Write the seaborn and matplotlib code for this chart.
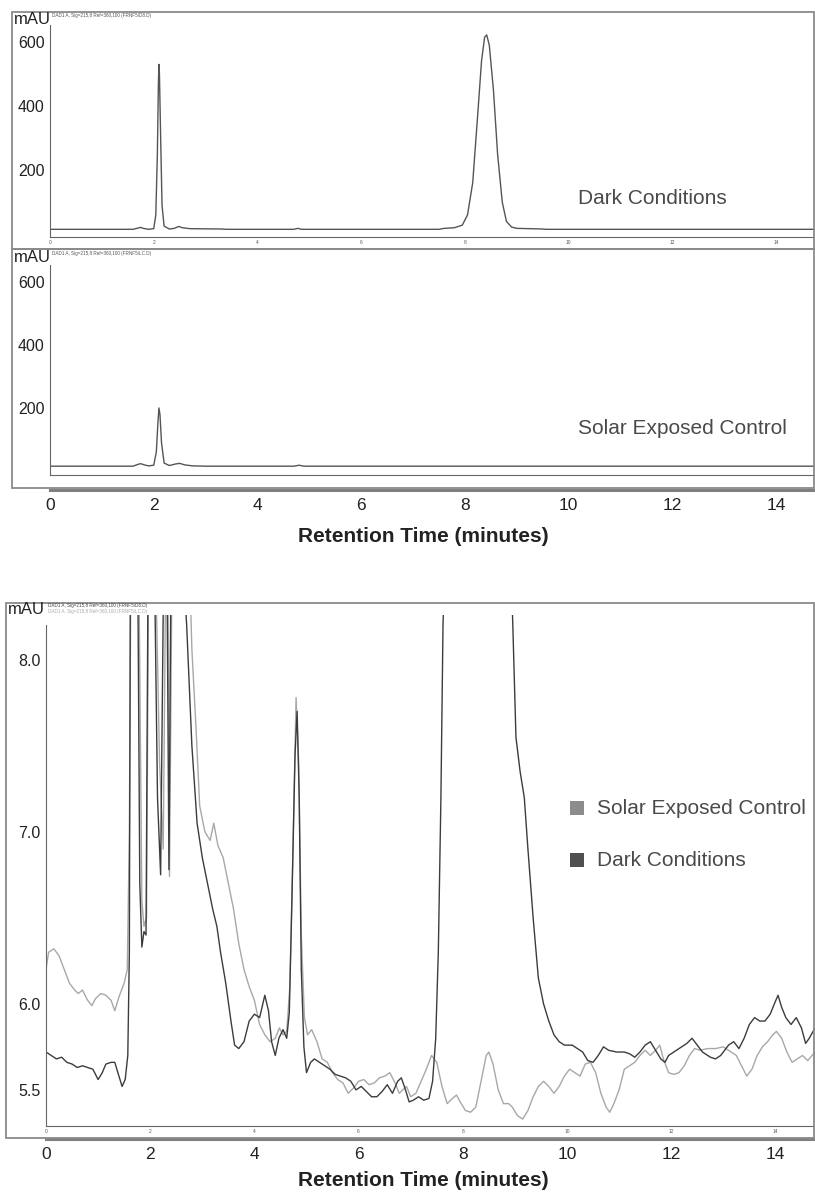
import numpy as np
import pandas as pd
import matplotlib
matplotlib.use("Agg")
import matplotlib.pyplot as plt
import seaborn as sns
from matplotlib.patches import Rectangle
from matplotlib.ticker import MultipleLocator, FixedLocator, FixedFormatter

# === Top chromatograms (mAU vs retention time, minutes) ===
dark_top_t = [0, 1.6, 1.7, 1.75, 1.8, 1.9, 2.0, 2.04, 2.07, 2.09, 2.1, 2.11, 2.13, 2.16, 2.2, 2.3,
              2.4, 2.48, 2.55, 2.7, 3.3, 3.4, 4.7, 4.78, 4.85, 7.5, 7.6, 7.8, 7.95, 8.05, 8.15,
              8.25, 8.32, 8.38, 8.42, 8.47, 8.55, 8.63, 8.72, 8.8, 8.9, 9.0, 9.5, 9.55, 14.76]
dark_top_v = [15, 15, 19, 21, 18, 15, 17, 60, 250, 470, 530, 500, 330, 90, 25, 16,
              18, 24, 20, 17, 16, 15, 15, 18, 15, 15, 18, 20, 28, 60, 160,
              380, 540, 615, 622, 590, 450, 250, 100, 40, 22, 18, 16, 15, 15]

solar_top_t = [0, 1.6, 1.7, 1.75, 1.82, 1.9, 2.0, 2.05, 2.08, 2.1, 2.12, 2.15, 2.2, 2.3, 2.42,
               2.5, 2.6, 2.75, 3.0, 4.7, 4.8, 4.9, 14.76]
solar_top_v = [15, 15, 21, 23, 19, 16, 18, 60, 150, 200, 180, 90, 25, 17, 22,
               24, 19, 16, 15, 15, 18, 15, 15]

# === Zoomed overlay (mAU 5.3 - 8.3) ===
dark_t = [0.00, 0.10, 0.20, 0.30, 0.40, 0.50, 0.60, 0.70, 0.80, 0.90, 1.00, 1.08, 1.15, 1.25, 1.32,
          1.40, 1.46, 1.52, 1.57, 1.60, 1.62, 1.76, 1.80, 1.84, 1.88, 1.92, 1.96, 2.08, 2.14, 2.20,
          2.26, 2.32, 2.36, 2.40, 2.62, 2.70, 2.80, 2.90, 3.00, 3.10, 3.20, 3.28, 3.35, 3.45, 3.55,
          3.62, 3.70, 3.80, 3.90, 4.00, 4.10, 4.20, 4.27, 4.33, 4.40, 4.47, 4.55, 4.62, 4.67, 4.72,
          4.78, 4.82, 4.86, 4.90, 4.95, 5.00, 5.08, 5.15, 5.25, 5.35, 5.45, 5.55, 5.65, 5.75, 5.85,
          5.95, 6.05, 6.15, 6.25, 6.35, 6.45, 6.55, 6.65, 6.75, 6.82, 6.90, 6.97, 7.05, 7.15, 7.25,
          7.35, 7.42, 7.48, 7.53, 7.58, 7.62, 7.66, 8.92, 8.96, 9.02, 9.10, 9.18, 9.25, 9.35, 9.45,
          9.55, 9.65, 9.75, 9.85, 9.95, 10.10, 10.20, 10.30, 10.40, 10.50, 10.60, 10.70, 10.80, 10.95,
          11.10, 11.20, 11.30, 11.40, 11.50, 11.60, 11.70, 11.80, 11.88, 11.95, 12.05, 12.20, 12.30,
          12.40, 12.50, 12.60, 12.75, 12.85, 12.95, 13.10, 13.20, 13.30, 13.40, 13.50, 13.60, 13.70,
          13.80, 13.90, 13.98, 14.05, 14.12, 14.20, 14.30, 14.40, 14.50, 14.58, 14.65, 14.76]
dark_v = [5.72, 5.70, 5.68, 5.69, 5.66, 5.65, 5.63, 5.64, 5.63, 5.62, 5.56, 5.60, 5.65, 5.66, 5.66,
          5.58, 5.52, 5.56, 5.70, 6.30, 8.60, 8.60, 6.70, 6.33, 6.42, 6.40, 8.60, 8.60, 7.20, 6.75,
          8.60, 8.60, 6.78, 8.60, 8.60, 8.20, 7.50, 7.05, 6.85, 6.70, 6.55, 6.45, 6.30, 6.12, 5.90,
          5.76, 5.74, 5.78, 5.90, 5.94, 5.92, 6.05, 5.96, 5.78, 5.70, 5.80, 5.85, 5.80, 5.95, 6.60,
          7.45, 7.70, 7.20, 6.20, 5.75, 5.60, 5.66, 5.68, 5.66, 5.64, 5.62, 5.59, 5.58, 5.57, 5.55,
          5.50, 5.52, 5.49, 5.46, 5.46, 5.49, 5.53, 5.48, 5.55, 5.57, 5.50, 5.43, 5.44, 5.46, 5.44,
          5.45, 5.55, 5.80, 6.30, 7.20, 8.20, 8.60, 8.60, 8.20, 7.55, 7.35, 7.20, 6.90, 6.50, 6.15,
          6.00, 5.90, 5.82, 5.78, 5.76, 5.76, 5.74, 5.72, 5.67, 5.66, 5.70, 5.75, 5.73, 5.72,
          5.72, 5.71, 5.69, 5.72, 5.76, 5.78, 5.73, 5.68, 5.66, 5.70, 5.72, 5.75, 5.77,
          5.80, 5.76, 5.72, 5.69, 5.68, 5.70, 5.76, 5.78, 5.74, 5.80, 5.88, 5.92, 5.90,
          5.90, 5.94, 6.00, 6.05, 5.98, 5.92, 5.88, 5.92, 5.86, 5.77, 5.80, 5.86]

solar_t = [0.00, 0.05, 0.15, 0.25, 0.35, 0.45, 0.55, 0.62, 0.70, 0.80, 0.88, 0.95, 1.05, 1.15, 1.25,
           1.32, 1.40, 1.50, 1.56, 1.60, 1.63, 1.78, 1.84, 1.88, 1.93, 1.97, 2.10, 2.18, 2.25, 2.30,
           2.34, 2.37, 2.42, 2.75, 2.80, 2.88, 2.95, 3.05, 3.15, 3.22, 3.30, 3.40, 3.50, 3.60, 3.70,
           3.80, 3.90, 4.00, 4.10, 4.20, 4.30, 4.40, 4.48, 4.55, 4.62, 4.68, 4.74, 4.80, 4.85, 4.90,
           4.96, 5.02, 5.10, 5.20, 5.30, 5.40, 5.50, 5.60, 5.70, 5.80, 5.90, 6.00, 6.10, 6.20, 6.30,
           6.40, 6.50, 6.60, 6.70, 6.78, 6.85, 6.92, 7.00, 7.10, 7.20, 7.30, 7.40, 7.50, 7.60, 7.70,
           7.80, 7.88, 7.95, 8.05, 8.15, 8.25, 8.35, 8.45, 8.50, 8.58, 8.68, 8.78, 8.88, 8.95, 9.05,
           9.15, 9.25, 9.35, 9.45, 9.55, 9.65, 9.75, 9.85, 9.95, 10.05, 10.15, 10.25, 10.35, 10.45,
           10.55, 10.65, 10.75, 10.82, 10.90, 11.00, 11.10, 11.20, 11.30, 11.40, 11.50, 11.60, 11.70,
           11.78, 11.85, 11.95, 12.05, 12.15, 12.25, 12.35, 12.45, 12.55, 12.70, 12.85, 13.00, 13.15,
           13.25, 13.35, 13.45, 13.55, 13.65, 13.75, 13.85, 13.95, 14.02, 14.12, 14.22, 14.32, 14.42,
           14.52, 14.62, 14.76]
solar_v = [6.20, 6.30, 6.32, 6.28, 6.20, 6.12, 6.08, 6.06, 6.08, 6.02, 5.99, 6.03, 6.06, 6.05, 6.02,
           5.96, 6.04, 6.12, 6.20, 7.00, 8.60, 8.60, 6.60, 6.45, 6.50, 8.60, 8.60, 7.40, 6.90, 8.60,
           8.60, 6.74, 8.60, 8.60, 8.06, 7.60, 7.15, 7.00, 6.95, 7.05, 6.92, 6.85, 6.70, 6.55, 6.35,
           6.20, 6.10, 6.02, 5.88, 5.82, 5.78, 5.80, 5.86, 5.82, 5.84, 6.10, 6.90, 7.78, 7.40, 6.40,
           5.92, 5.82, 5.85, 5.78, 5.68, 5.66, 5.60, 5.56, 5.54, 5.48, 5.51, 5.55, 5.56, 5.53, 5.54,
           5.57, 5.58, 5.60, 5.54, 5.48, 5.50, 5.52, 5.46, 5.48, 5.55, 5.62, 5.70, 5.66, 5.52, 5.42,
           5.45, 5.47, 5.43, 5.38, 5.37, 5.40, 5.55, 5.70, 5.72, 5.65, 5.50, 5.42, 5.42, 5.40, 5.35,
           5.33, 5.38, 5.46, 5.52, 5.55, 5.52, 5.48, 5.52, 5.58, 5.62, 5.60, 5.58, 5.65, 5.66,
           5.60, 5.48, 5.40, 5.37, 5.42, 5.50, 5.62, 5.64, 5.66, 5.70, 5.73, 5.70, 5.73,
           5.76, 5.68, 5.60, 5.59, 5.60, 5.64, 5.70, 5.74, 5.73, 5.74, 5.74, 5.75, 5.72,
           5.70, 5.64, 5.58, 5.62, 5.70, 5.75, 5.78, 5.82, 5.84, 5.80, 5.72, 5.66, 5.68,
           5.70, 5.67, 5.72]

zoom_ticks = [5.5, 6.0, 6.5, 7.0, 7.5, 8.0]
zoom_labels = ["5.5", "6.0", "", "7.0", "", "8.0"]
top_ticks = [200, 400, 600]

sns.set_style("white")
plt.rcParams["font.family"] = ["Liberation Sans", "DejaVu Sans"]

W, H = 815, 1196
fig = plt.figure(figsize=(W / 100, H / 100), dpi=100)
FRAME = "#8a8a8a"
LINE_DARK = "#3c3c3c"
LINE_LIGHT = "#a8a8a8"
TXT = "#4a4a4a"


def rect(x0, y0, x1, y1):
    return [x0 / W, 1 - y1 / H, (x1 - x0) / W, (y1 - y0) / H]


def box(x0, y0, x1, y1):
    fig.add_artist(Rectangle((x0 / W, 1 - y1 / H), (x1 - x0) / W, (y1 - y0) / H,
                             transform=fig.transFigure, fill=False, ec=FRAME, lw=1.3))


def text(x, y, s, **kw):
    fig.text(x / W, 1 - y / H, s, **kw)


def chrom_axes(r, xmax, ylim, small_labels=True):
    ax = fig.add_axes(r)
    ax.set_facecolor("none")
    ax.set_xlim(0, xmax)
    ax.set_ylim(*ylim)
    for s in ["top", "right"]:
        ax.spines[s].set_visible(False)
    for s in ["left", "bottom"]:
        ax.spines[s].set_color("#666666")
        ax.spines[s].set_linewidth(0.8)
    ax.xaxis.set_major_locator(MultipleLocator(2))
    ax.xaxis.set_minor_locator(MultipleLocator(0.5))
    ax.tick_params(axis="x", which="both", direction="inout", length=3, width=0.6,
                   color="#666666", labelsize=3.5, pad=1, labelcolor="#555555")
    if not small_labels:
        ax.tick_params(axis="x", labelbottom=False)
    ax.set_xlabel("")
    ax.set_ylabel("")
    return ax


def big_axis(x0, y, x1, xmax):
    ax = fig.add_axes(rect(x0, y - 2, x1, y))
    ax.set_facecolor("none")
    ax.set_xlim(0, xmax)
    ax.set_yticks([])
    for s in ["top", "right", "left"]:
        ax.spines[s].set_visible(False)
    ax.spines["bottom"].set_color("#808080")
    ax.spines["bottom"].set_linewidth(2.2)
    ax.xaxis.set_major_locator(MultipleLocator(2))
    ax.xaxis.set_minor_locator(MultipleLocator(0.5))
    ax.tick_params(axis="x", which="major", direction="inout", length=6, width=0.8,
                   color="#555555", labelsize=12.5, pad=3, labelcolor="#222222")
    ax.tick_params(axis="x", which="minor", direction="inout", length=4, width=0.6,
                   color="#555555")
    return ax


# ---------------- top figure: two stacked chromatograms ----------------
box(12, 12, 814, 249)
box(12, 249, 814, 488)

panels = [
    (dark_top_t, dark_top_v, 25, 237, (-9, 653), "Dark Conditions", 198, True,
     "DAD1 A, Sig=215,8 Ref=360,100 (FRNF5\\D8.D)", 12),
    (solar_top_t, solar_top_v, 265, 475, (-13, 654), "Solar Exposed Control", 428, False,
     "DAD1 A, Sig=215,8 Ref=360,100 (FRNF5\\LC.D)", 249),
]
for t, v, y0, y1, ylim, label, ly, lab, header, top in panels:
    ax = chrom_axes(rect(50, y0, 815, y1), 14.75, ylim, small_labels=lab)
    df = pd.DataFrame({"t": t, "mAU": v})
    sns.lineplot(data=df, x="t", y="mAU", ax=ax, color="#555555", lw=1.0,
                 sort=False, estimator=None)
    ax.set_xlabel("")
    ax.set_ylabel("")
    ax.yaxis.set_major_locator(FixedLocator(top_ticks))
    ax.yaxis.set_minor_locator(MultipleLocator(20))
    ax.tick_params(axis="y", which="major", direction="out", length=3, width=0.6,
                   color="#666666", labelsize=11.5, pad=1, labelcolor="#222222")
    ax.tick_params(axis="y", which="minor", direction="out", length=1.5, width=0.5,
                   color="#777777")
    text(14, top + 8, "mAU", fontsize=12, color="#222222", va="center")
    text(52, top + 4, header, fontsize=3.3, color="#555555", va="center")
    text(578, ly, label, fontsize=15, color=TXT, va="center")

big_axis(50, 490, 815, 14.75)
text(423, 537, "Retention Time (minutes)", fontsize=15, fontweight="bold",
     color="#222222", ha="center", va="center")

# ---------------- bottom figure: zoomed overlay ----------------
box(6, 603, 814, 1138)
axz = chrom_axes(rect(46, 615, 815, 1126), 14.76, (5.29, 8.26), small_labels=True)
overlay = pd.concat([
    pd.DataFrame({"t": solar_t, "mAU": solar_v, "run": "Solar Exposed Control"}),
    pd.DataFrame({"t": dark_t, "mAU": dark_v, "run": "Dark Conditions"}),
])
sns.lineplot(data=overlay, x="t", y="mAU", hue="run", ax=axz, sort=False, estimator=None,
             palette={"Solar Exposed Control": LINE_LIGHT, "Dark Conditions": LINE_DARK},
             lw=1.0, legend=False)
axz.set_xlabel("")
axz.set_ylabel("")
axz.spines["left"].set_bounds(5.29, 8.2)
axz.yaxis.set_major_locator(FixedLocator(zoom_ticks))
axz.yaxis.set_major_formatter(FixedFormatter(zoom_labels))
axz.yaxis.set_minor_locator(MultipleLocator(0.1))
axz.tick_params(axis="y", which="major", direction="out", length=3, width=0.6,
                color="#666666", labelsize=11.5, pad=1, labelcolor="#222222")
axz.tick_params(axis="y", which="minor", direction="out", length=1.5, width=0.5,
                color="#777777")

text(8, 609, "mAU", fontsize=12, color="#222222", va="center")
text(48, 606, "DAD1 A, Sig=215,8 Ref=360,100 (FRNF5\\D8.D)", fontsize=3.3,
     color="#444444", va="center")
text(48, 611, "DAD1 A, Sig=215,8 Ref=360,100 (FRNF5\\LC.D)", fontsize=3.3,
     color="#aaaaaa", va="center")

# legend squares
for name, col, y in [("Solar Exposed Control", "#8c8c8c", 808), ("Dark Conditions", "#505050", 860)]:
    fig.add_artist(Rectangle((570 / W, 1 - (y + 7) / H), 14 / W, 14 / H,
                             transform=fig.transFigure, fc=col, ec="none"))
    text(597, y, name, fontsize=15, color=TXT, va="center")

big_axis(46, 1139, 815, 14.76)
text(423, 1180, "Retention Time (minutes)", fontsize=15, fontweight="bold",
     color="#222222", ha="center", va="center")

fig.savefig("out.png", dpi=100)
